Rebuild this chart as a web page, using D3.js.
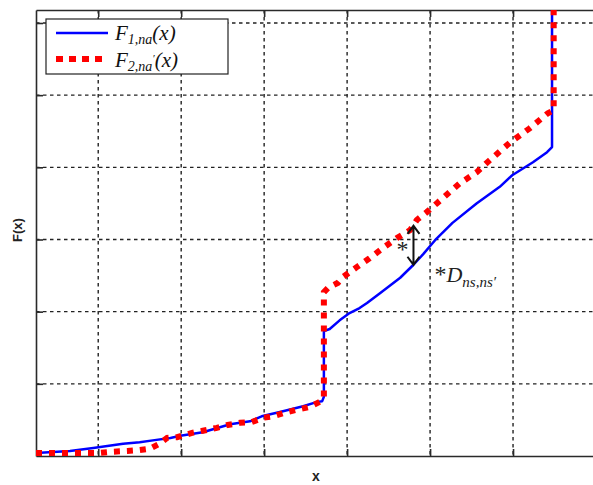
<!DOCTYPE html>
<html>
<head>
<meta charset="utf-8">
<script src="https://cdn.jsdelivr.net/npm/d3@7"></script>
<style>
  html, body { margin: 0; padding: 0; background: #fff; }
  svg { display: block; }
</style>
</head>
<body>
<svg id="chart" width="593" height="485"></svg>
<script>
// ---- data (axis units: vertical grid lines at x = 1..7, horizontal grid lines at y = 1..6) ----
const f1X = [0.25, 0.66, 0.94, 1.30, 1.50, 1.68, 1.87, 1.99, 2.26, 2.59, 2.83, 2.97, 3.19, 3.47, 3.64, 3.70, 3.72, 3.72, 3.79, 3.91, 4.03, 4.15, 4.24, 4.40, 4.64, 4.80, 4.92, 5.06, 5.27, 5.56, 5.84, 5.99, 6.24, 6.41, 6.47, 6.47];
const f1Y = [0.04, 0.07, 0.11, 0.17, 0.19, 0.22, 0.25, 0.28, 0.33, 0.44, 0.48, 0.55, 0.61, 0.69, 0.75, 0.76, 0.82, 1.73, 1.76, 1.88, 1.98, 2.05, 2.12, 2.26, 2.47, 2.65, 2.80, 2.99, 3.23, 3.50, 3.73, 3.89, 4.07, 4.21, 4.28, 6.18];
const f2X = [0.25, 0.99, 1.18, 1.35, 1.48, 1.62, 1.74, 1.83, 1.95, 2.13, 2.26, 2.43, 2.56, 2.71, 2.85, 2.99, 3.11, 3.25, 3.39, 3.55, 3.67, 3.72, 3.72, 3.77, 3.89, 3.95, 4.12, 4.27, 4.43, 4.60, 4.76, 4.84, 4.96, 5.08, 5.15, 5.36, 5.56, 5.72, 5.96, 6.20, 6.42, 6.49, 6.49];
const f2Y = [0.04, 0.04, 0.06, 0.07, 0.08, 0.10, 0.17, 0.25, 0.26, 0.32, 0.35, 0.39, 0.43, 0.46, 0.47, 0.53, 0.55, 0.60, 0.64, 0.68, 0.75, 0.82, 2.27, 2.33, 2.40, 2.48, 2.62, 2.74, 2.88, 3.02, 3.13, 3.27, 3.38, 3.50, 3.57, 3.78, 3.93, 4.10, 4.34, 4.54, 4.75, 4.79, 6.18];
const xTicks = [1, 2, 3, 4, 5, 6, 7];
const yTicks = [1, 2, 3, 4, 5, 6];
const gapX = 4.80;          // where the D statistic is marked
const gapY = [2.65, 3.19];  // F1 and F2 at that point

// ---- layout ----
const svg = d3.select('#chart');
const L = 36, R = 596, T = 10, B = 456;
const x = d3.scaleLinear().domain([0.25, 7]).range([L, R]);
const y = d3.scaleLinear().domain([0, 6.18]).range([B, T]);
const axisColor = '#2a2a2a';

// grid
const grid = svg.append('g').attr('stroke', '#222').attr('stroke-width', 1.4).attr('stroke-dasharray', '3.5,3.5');
grid.selectAll('line.v').data(xTicks).join('line')
  .attr('x1', d => x(d)).attr('x2', d => x(d)).attr('y1', T).attr('y2', B);
grid.selectAll('line.h').data(yTicks).join('line')
  .attr('x1', L).attr('x2', R).attr('y1', d => y(d)).attr('y2', d => y(d));

// axes (ticks pointing inward, no labels)
const styleAxis = g => {
  g.select('.domain').attr('stroke', axisColor).attr('stroke-width', 1.6);
  g.selectAll('.tick line').attr('stroke', axisColor).attr('stroke-width', 1.6);
  g.selectAll('.tick text').remove();
};
svg.append('g').attr('transform', `translate(0,${B})`)
  .call(d3.axisBottom(x).tickValues(xTicks).tickSizeInner(-7).tickSizeOuter(0).tickFormat('')).call(styleAxis);
svg.append('g').attr('transform', `translate(0,${T})`)
  .call(d3.axisTop(x).tickValues(xTicks).tickSizeInner(-7).tickSizeOuter(0).tickFormat('')).call(styleAxis);
svg.append('g').attr('transform', `translate(${L},0)`)
  .call(d3.axisLeft(y).tickValues(yTicks).tickSizeInner(-7).tickSizeOuter(0).tickFormat('')).call(styleAxis);

// curves
const line = d3.line().x(d => x(d[0])).y(d => y(d[1]));
const f1 = f1X.map((v, i) => [v, f1Y[i]]);
const f2 = f2X.map((v, i) => [v, f2Y[i]]);
svg.append('path').datum(f1).attr('d', line)
  .attr('fill', 'none').attr('stroke', '#0000ff').attr('stroke-width', 2.5).attr('stroke-linejoin', 'round');
svg.append('path').datum(f2).attr('d', line)
  .attr('fill', 'none').attr('stroke', '#ff0000').attr('stroke-width', 6).attr('stroke-dasharray', '6,7');

// arrow for D
const ax = x(gapX), ay1 = y(gapY[1]), ay2 = y(gapY[0]);
svg.append('path')
  .attr('d', `M${ax},${ay1}L${ax},${ay2}M${ax-6},${ay1+8}L${ax},${ay1}L${ax+6},${ay1+8}M${ax-6},${ay2-8}L${ax},${ay2}L${ax+6},${ay2-8}`)
  .attr('fill', 'none').attr('stroke', '#111').attr('stroke-width', 2);
svg.append('text').attr('x', ax - 17).attr('y', (ay1 + ay2) / 2 + 12)
  .attr('font-family', 'Liberation Serif').attr('font-size', 24).attr('fill', '#222').text('*');
const dt = svg.append('text').attr('x', ax + 21).attr('y', ay2 + 17)
  .attr('font-family', 'Liberation Serif').attr('font-size', 22).attr('fill', '#222');
dt.append('tspan').attr('font-size', 24).text('*');
dt.append('tspan').attr('font-style', 'italic').text('D');
dt.append('tspan').attr('font-style', 'italic').attr('font-size', 15).attr('dy', 5).text('ns,ns\u2032');

// legend
const lg = svg.append('g');
lg.append('rect').attr('x', 46).attr('y', 19).attr('width', 182).attr('height', 55)
  .attr('fill', '#fff').attr('stroke', '#222').attr('stroke-width', 1.2);
lg.append('line').attr('x1', 56).attr('x2', 108).attr('y1', 33).attr('y2', 33)
  .attr('stroke', '#0000ff').attr('stroke-width', 2.5);
lg.append('line').attr('x1', 56).attr('x2', 102).attr('y1', 59).attr('y2', 59)
  .attr('stroke', '#ff0000').attr('stroke-width', 6).attr('stroke-dasharray', '7,6');
const legendLabel = (yy, sub, prime) => {
  const t = lg.append('text').attr('x', 115).attr('y', yy)
    .attr('font-family', 'Liberation Serif').attr('font-style', 'italic').attr('font-size', 21).attr('fill', '#111');
  t.append('tspan').text('F');
  t.append('tspan').attr('font-size', 14).attr('dy', 4).text(sub);
  if (prime) t.append('tspan').attr('font-size', 11).attr('dy', -9).text('\u2032');
  t.append('tspan').attr('dy', prime ? 5 : -4).text('(x)');
};
legendLabel(40, '1,na', false);
legendLabel(67, '2,na', true);

// axis labels
svg.append('text').attr('x', 316).attr('y', 481).attr('text-anchor', 'middle')
  .attr('font-family', 'Liberation Sans').attr('font-weight', 'bold').attr('font-size', 14).attr('fill', '#222').text('x');
svg.append('text').attr('transform', 'translate(22,230) rotate(-90)').attr('text-anchor', 'middle')
  .attr('font-family', 'Liberation Sans').attr('font-weight', 'bold').attr('font-size', 13).attr('fill', '#222').text('F(x)');
</script>
</body>
</html>
